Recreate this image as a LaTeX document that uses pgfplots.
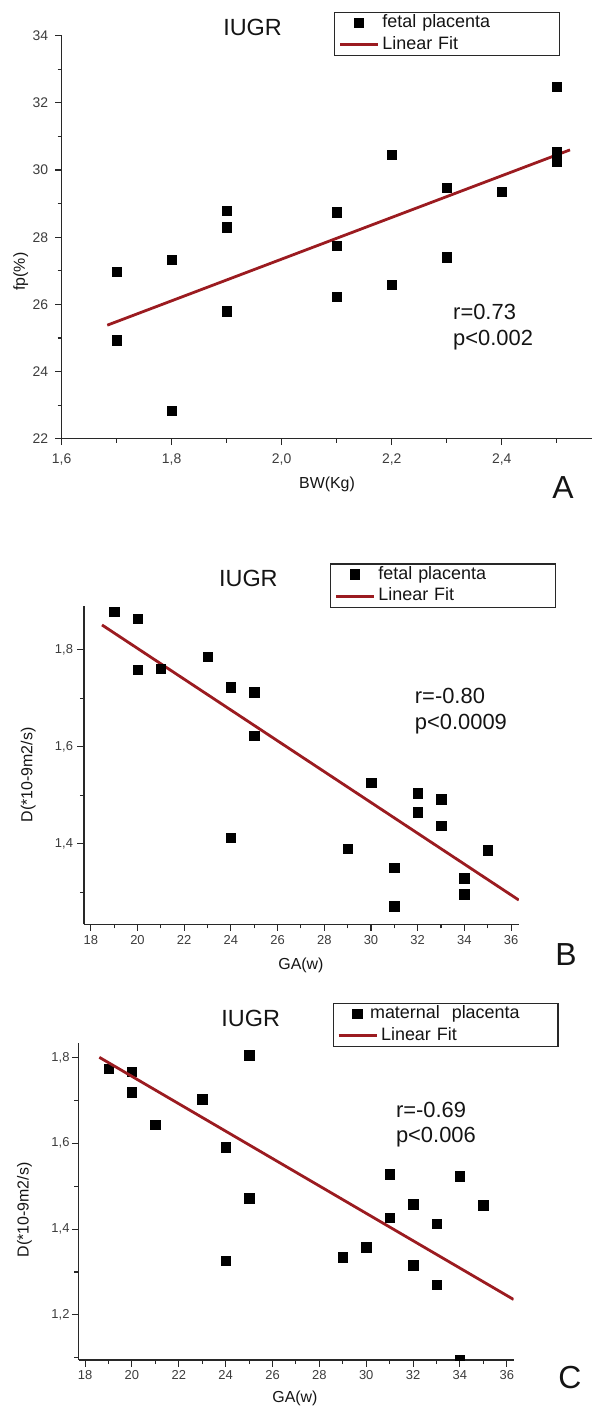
\documentclass[border=0pt]{standalone}
\usepackage{fontspec}
\setmainfont{Liberation Sans}
\usepackage{pgfplots}
\pgfplotsset{compat=1.18}
\definecolor{fitred}{RGB}{155,27,32}
\definecolor{axgray}{RGB}{40,40,40}
\definecolor{ticklab}{RGB}{60,60,60}
\definecolor{txt}{RGB}{20,20,20}

\pgfplotsset{
  panel/.style={
    scale only axis,
    axis lines*=left,
    axis line style={axgray, line width=1.2bp},
    tick align=outside,
    major tick length=6.5bp,
    minor tick length=4bp,
    every tick/.style={axgray, line width=1.1bp},
    tick label style={font=\fontsize{14}{16}\selectfont, text=ticklab},
    label style={font=\fontsize{16}{18}\selectfont, text=txt, anchor=center},
    title style={font=\fontsize{23.5}{26}\selectfont, text=txt, anchor=center},
    legend cell align=left,
    legend style={draw=axgray, line width=1.2bp, fill=white,
      font=\fontsize{18}{20}\selectfont, text=txt, anchor=north west,
      inner xsep=4bp, inner ysep=2.3bp, row sep=4.6bp,
      nodes={text width=170bp, inner xsep=3bp, inner ysep=0bp, text height=13bp, text depth=4bp, align=left}},
  },
  datapts/.style={only marks, mark=square*, mark size=4.75bp, black,
    legend image code/.code={\draw[mark repeat=2, mark phase=2, ##1] plot coordinates {(0bp,0bp) (19bp,0bp) (38bp,0bp)};}},
  fitline/.style={no marks, fitred, line width=2.8bp,
    legend image code/.code={\draw[##1] (0bp,0bp) -- (38bp,0bp);}},
}

\begin{document}
\begin{tikzpicture}[x=1bp,y=1bp]
\path[use as bounding box] (0bp,0bp) rectangle (592bp,-1408bp);

% ---------------- Panel A ----------------
\begin{axis}[panel,
  at={(61.6bp,-438.7bp)}, anchor=south west,
  width=530.4bp, height=403bp,
  xmin=1.6, xmax=2.564, ymin=22, ymax=34,
  xtick={1.6,1.8,2.0,2.2,2.4},
  xticklabels={{1,6},{1,8},{2,0},{2,2},{2,4}},
  minor xtick={1.7,1.9,2.1,2.3,2.5},
  ytick={22,24,26,28,30,32,34},
  yticklabels={22,24,26,28,30,32,34},
  minor ytick={23,25,27,29,31,33},
  xticklabel shift=5bp, yticklabel shift=3.4bp,
  xlabel={BW(Kg)}, ylabel={fp(\%)},
  xlabel style={at={(axis description cs:0.5004,-0.1124)}},
  ylabel style={at={(axis description cs:-0.0769,0.4144)}},
  title={IUGR},
  title style={at={(axis description cs:0.36,1.006)}},
  legend style={at={(axis description cs:0.5136,1.0596)}},
]
\addplot[datapts] coordinates {
 (1.7,26.97) (1.7,24.93) (1.8,27.33) (1.8,22.83) (1.9,28.79) (1.9,28.30)
 (1.9,25.79) (2.1,28.75) (2.1,27.74) (2.1,26.23) (2.2,30.46) (2.2,26.59)
 (2.3,29.48) (2.3,27.41) (2.4,29.36) (2.5,32.48) (2.5,30.55) (2.5,30.25)
};
\addlegendentry{fetal placenta}
\addplot[fitline] coordinates {(1.683,25.38) (2.524,30.60)};
\addlegendentry{Linear Fit}
\end{axis}

% ---------------- Panel B ----------------
\begin{axis}[panel,
  at={(84bp,-924.3bp)}, anchor=south west,
  width=434.8bp, height=318.3bp,
  xmin=17.71, xmax=36.33, ymin=1.234, ymax=1.89,
  tick label style={font=\fontsize{13}{15}\selectfont},
  xtick={18,20,...,36},
  xticklabels={18,20,22,24,26,28,30,32,34,36},
  minor xtick={19,21,...,35},
  ytick={1.4,1.6,1.8},
  yticklabels={{1,4},{1,6},{1,8}},
  minor ytick={1.3,1.5,1.7},
  xticklabel shift=1bp, yticklabel shift=1bp,
  xlabel={GA(w)}, ylabel={D(*10-9m2/s)},
  xlabel style={at={(axis description cs:0.4990,-0.1279)}},
  ylabel style={at={(axis description cs:-0.1285,0.469)}},
  title={IUGR},
  title style={at={(axis description cs:0.378,1.069)}},
  legend style={at={(axis description cs:0.5658,1.134)}},
]
\addplot[datapts] coordinates {
 (19,1.878) (20,1.864) (20,1.759) (21,1.761) (23,1.786) (24,1.723)
 (25,1.712) (25,1.623) (24,1.413) (29,1.390) (30,1.526) (32,1.504)
 (32,1.465) (33,1.492) (33,1.437) (31,1.351) (31,1.271) (34,1.329)
 (34,1.296) (35,1.387)
};
\addlegendentry{fetal placenta}
\addplot[fitline] coordinates {(18.48,1.851) (36.33,1.284)};
\addlegendentry{Linear Fit}
\end{axis}

% ---------------- Panel C ----------------
\begin{axis}[panel,
  at={(78.5bp,-1360bp)}, anchor=south west,
  width=435.1bp, height=317.3bp,
  xmin=17.72, xmax=36.29, ymin=1.095, ymax=1.834,
  clip marker paths=true,
  tick label style={font=\fontsize{13}{15}\selectfont},
  xtick={18,20,...,36},
  xticklabels={18,20,22,24,26,28,30,32,34,36},
  minor xtick={19,21,...,35},
  ytick={1.2,1.4,1.6,1.8},
  yticklabels={{1,2},{1,4},{1,6},{1,8}},
  minor ytick={1.1,1.3,1.5,1.7},
  xticklabel shift=0bp, yticklabel shift=-1bp,
  xlabel={GA(w)}, ylabel={D(*10-9m2/s)},
  xlabel style={at={(axis description cs:0.4975,-0.1198)}},
  ylabel style={at={(axis description cs:-0.1239,0.4727)}},
  title={IUGR},
  title style={at={(axis description cs:0.3958,1.059)}},
  legend style={at={(axis description cs:0.5842,1.126)}},
]
\addplot[datapts] coordinates {
 (19,1.773) (20,1.767) (20,1.719) (21,1.643) (23,1.702) (24,1.591)
 (24,1.326) (25,1.805) (25,1.472) (29,1.334) (30,1.358) (31,1.528)
 (31,1.427) (32,1.458) (32,1.316) (33,1.412) (33,1.271) (34,1.523)
 (34,1.095) (35,1.455)
};
\addlegendentry{\hspace*{-11bp}maternal\ \ placenta}
\addplot[fitline] coordinates {(18.61,1.800) (36.29,1.236)};
\addlegendentry{Linear Fit}
\end{axis}

% ---------------- annotations ----------------
\begin{scope}[every node/.style={text=txt, inner sep=0pt}]
\node[anchor=base west, font=\fontsize{22}{24}\selectfont] at (453bp,-319.5bp) {r=0.73};
\node[anchor=base west, font=\fontsize{22}{24}\selectfont] at (453bp,-345bp) {p<0.002};
\node[font=\fontsize{32}{34}\selectfont] at (563bp,-488bp) {A};

\node[anchor=base west, font=\fontsize{22}{24}\selectfont] at (414.7bp,-703.7bp) {r=-0.80};
\node[anchor=base west, font=\fontsize{22}{24}\selectfont] at (414.7bp,-729.4bp) {p<0.0009};
\node[font=\fontsize{32}{34}\selectfont] at (566bp,-955bp) {B};

\node[anchor=base west, font=\fontsize{22}{24}\selectfont] at (395.8bp,-1117bp) {r=-0.69};
\node[anchor=base west, font=\fontsize{22}{24}\selectfont] at (395.8bp,-1142.7bp) {p<0.006};
\node[font=\fontsize{32}{34}\selectfont] at (570bp,-1378bp) {C};
\end{scope}
\end{tikzpicture}
\end{document}
